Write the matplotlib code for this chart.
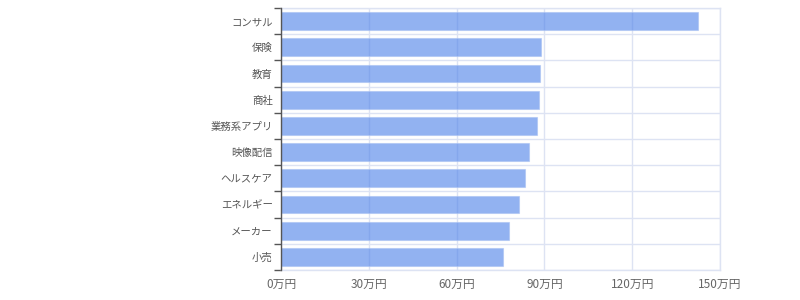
import matplotlib.pyplot as plt
import numpy as np

plt.rcParams['font.family'] = ['Noto Sans CJK JP', 'DejaVu Sans']

# 業界別の平均年収 (万円)
categories = ['コンサル', '保険', '教育', '商社', '業務系アプリ',
              '映像配信', 'ヘルスケア', 'エネルギー', 'メーカー', '小売']
values = [142.5, 88.8, 88.5, 88.1, 87.5, 84.8, 83.5, 81.2, 77.9, 75.9]
xticks = [0, 30, 60, 90, 120, 150]
xticklabels = ['0万円', '30万円', '60万円', '90万円', '120万円', '150万円']

grid_c = '#dde3f3'

fig = plt.figure(figsize=(8, 3), dpi=100)
ax = fig.add_axes([0.35125, 0.1, 0.54875, 0.8733])

y = np.arange(len(categories))
ax.barh(y, values, height=0.68, color='#4a7fe8', alpha=0.6,
        edgecolor='#a9c1f2', linewidth=0.8, zorder=3)

ax.set_xlim(0, 150)
ax.set_ylim(len(categories) - 0.5, -0.5)

ax.set_xticks(xticks)
ax.set_xticklabels(xticklabels, fontsize=8.5, color='#666666')
ax.set_yticks(y)
ax.set_yticklabels(categories, fontsize=7.5, color='#555555')
ax.set_yticks(np.arange(-0.5, len(categories), 1), minor=True)

ax.tick_params(axis='x', length=0, pad=6)
ax.tick_params(axis='y', which='major', length=0, pad=6)
ax.tick_params(axis='y', which='minor', length=5, width=1, color='#555555')

ax.set_axisbelow(True)
ax.grid(axis='x', which='major', color=grid_c, linewidth=1)
ax.grid(axis='y', which='minor', color=grid_c, linewidth=1)

for s in ['top', 'right', 'bottom']:
    ax.spines[s].set_color(grid_c)
    ax.spines[s].set_linewidth(1)
ax.spines['left'].set_color('#555555')
ax.spines['left'].set_linewidth(1)
ax.spines['left'].set_zorder(4)

fig.savefig('out.png', dpi=100)
